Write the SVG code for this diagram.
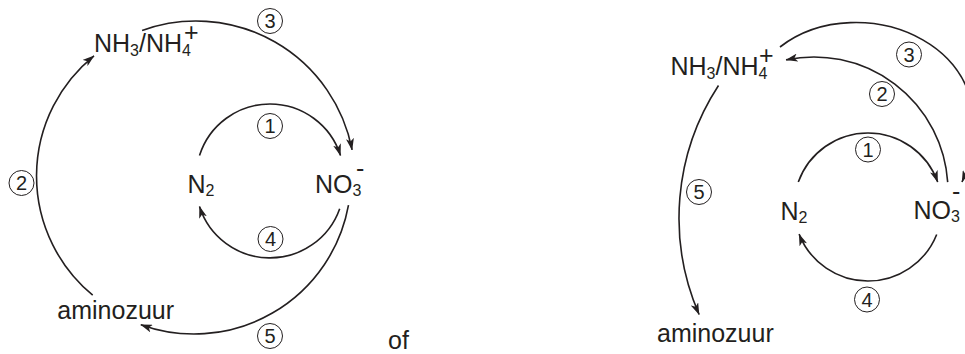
<svg xmlns="http://www.w3.org/2000/svg" width="965" height="354" viewBox="0 0 965 354">
<defs>
<style>
.t{font-family:"Liberation Sans",Arial,Helvetica,sans-serif;font-size:25px;fill:#231f20}
.sub{font-size:16px}
.sup{font-size:25px}
.num{font-family:"Liberation Sans",Arial,Helvetica,sans-serif;font-size:20px;fill:#231f20;text-anchor:middle}
.ring{fill:none;stroke:#231f20;stroke-width:1}
.arc{fill:none;stroke:#231f20;stroke-width:1.6;marker-end:url(#ah)}
</style>
<marker id="ah" viewBox="0 0 12 8" refX="11.5" refY="4" markerWidth="12" markerHeight="8" orient="auto" markerUnits="userSpaceOnUse">
<path d="M0,0 L12,4 L0,8 L3,4 z" fill="#231f20"/>
</marker>
</defs>
<rect width="965" height="354" fill="#ffffff"/>

<g id="connectors">
<!-- left diagram -->
<path class="arc" d="M199.5,155.5 A74,74 0 0 1 340.5,155.5"/>
<path class="arc" d="M339.7,208.7 A74,74 0 0 1 199.5,206.5"/>
<path class="arc" d="M92.7,295.2 A154.5,154.5 0 0 1 94,55.8"/>
<path class="arc" d="M142.1,30.4 A159,159 0 0 1 352.1,149.9"/>
<path class="arc" d="M348.5,205.1 A157,157 0 0 1 140.8,324.7"/>
<!-- right diagram -->
<path class="arc" d="M798.3,182.1 A74,74 0 0 1 937.7,182.1"/>
<path class="arc" d="M936.7,234.5 A74,74 0 0 1 799.1,234.1"/>
<path class="arc" d="M947.7,182.1 A134,134 0 0 0 786.1,59.9"/>
<path class="arc" d="M780,47 C860,-15 1020,45 962,182"/>
<path class="arc" d="M718.5,85.5 A242,242 0 0 0 699.1,314.5"/>
</g>

<g id="labels">
<g id="lbl-left-1"><circle class="ring" cx="270" cy="126" r="12.5"/><text class="num" x="270" y="133">1</text></g>
<g id="lbl-left-2"><circle class="ring" cx="21.5" cy="183" r="12.5"/><text class="num" x="21.5" y="190">2</text></g>
<g id="lbl-left-3"><circle class="ring" cx="270" cy="21" r="12.5"/><text class="num" x="270" y="28">3</text></g>
<g id="lbl-left-4"><circle class="ring" cx="270.5" cy="239" r="12.5"/><text class="num" x="270.5" y="246">4</text></g>
<g id="lbl-left-5"><circle class="ring" cx="270" cy="336" r="12.5"/><text class="num" x="270" y="343">5</text></g>
<g id="lbl-right-1"><circle class="ring" cx="868" cy="149.5" r="12.5"/><text class="num" x="868" y="156.5">1</text></g>
<g id="lbl-right-2"><circle class="ring" cx="882" cy="94" r="12.5"/><text class="num" x="882" y="101">2</text></g>
<g id="lbl-right-3"><circle class="ring" cx="909" cy="54.5" r="12.5"/><text class="num" x="909" y="61.5">3</text></g>
<g id="lbl-right-4"><circle class="ring" cx="867" cy="299.5" r="12.5"/><text class="num" x="867" y="306.5">4</text></g>
<g id="lbl-right-5"><circle class="ring" cx="699" cy="192" r="12.5"/><text class="num" x="699" y="199">5</text></g>
</g>

<g id="left-nh">
<text class="t" x="94" y="52">NH<tspan class="sub" dy="4">3</tspan><tspan dy="-4">/NH</tspan><tspan class="sub" dy="4">4</tspan><tspan class="sup" dx="-7" dy="-15">+</tspan></text>
</g>
<g id="left-n2"><text class="t" x="187.5" y="193">N<tspan class="sub" dy="3">2</tspan></text></g>
<g id="left-no3">
<text class="t" x="315" y="193">NO<tspan class="sub" dy="3">3</tspan><tspan class="sup" dx="-5.4" dy="-19">-</tspan></text>
</g>
<g id="left-amino"><text class="t" x="57.3" y="319.3">aminozuur</text></g>

<g id="of"><text class="t" x="388" y="348.5">of</text></g>

<g id="right-nh">
<text class="t" x="670.5" y="74.5">NH<tspan class="sub" dy="4">3</tspan><tspan dy="-4">/NH</tspan><tspan class="sub" dy="4">4</tspan><tspan class="sup" dx="-8.4" dy="-14.5">+</tspan></text>
</g>
<g id="right-n2"><text class="t" x="780.5" y="219.5">N<tspan class="sub" dy="3">2</tspan></text></g>
<g id="right-no3">
<text class="t" x="913.5" y="219">NO<tspan class="sub" dy="3">3</tspan><tspan class="sup" dx="-7.9" dy="-22">-</tspan></text>
</g>
<g id="right-amino"><text class="t" x="657" y="341.7">aminozuur</text></g>
</svg>
